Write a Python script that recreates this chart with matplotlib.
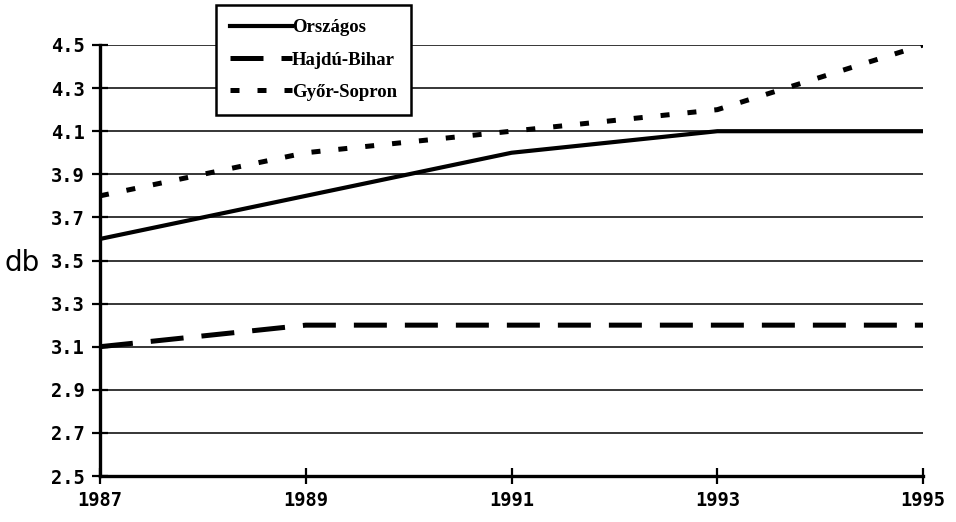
import matplotlib.pyplot as plt
import numpy as np

# adatok
evek = [1987, 1988, 1989, 1990, 1991, 1992, 1993, 1994, 1995]
orszagos = [3.6, 3.7, 3.8, 3.9, 4.0, 4.05, 4.1, 4.1, 4.1]
hajdu_bihar = [3.1, 3.15, 3.2, 3.2, 3.2, 3.2, 3.2, 3.2, 3.2]
gyor_sopron = [3.8, 3.9, 4.0, 4.05, 4.1, 4.15, 4.2, 4.35, 4.5]
y_ticks = [2.5, 2.7, 2.9, 3.1, 3.3, 3.5, 3.7, 3.9, 4.1, 4.3, 4.5]
x_ticks = [1987, 1989, 1991, 1993, 1995]

fig = plt.figure(figsize=(9.56, 5.22), dpi=100)
ax = fig.add_axes([0.1046, 0.0881, 0.861, 0.8257])

ax.plot(evek, orszagos, color='black', lw=3.0, label='Országos')
ax.plot(evek, hajdu_bihar, color='black', lw=3.6, linestyle=(0, (6.6, 3.6)),
        label='Hajdú-Bihar')
ax.plot(evek, gyor_sopron, color='black', lw=3.6, linestyle=(0, (1.8, 3.6)),
        label='Győr-Sopron')

ax.set_xlim(1987, 1995)
ax.set_ylim(2.5, 4.5)
ax.set_yticks(y_ticks)
ax.set_yticklabels(['%.1f' % v for v in y_ticks])
ax.set_xticks(x_ticks)
ax.grid(axis='y', color='black', lw=1.1)
ax.set_axisbelow(True)

for s in ['top', 'right']:
    ax.spines[s].set_visible(False)
for s in ['left', 'bottom']:
    ax.spines[s].set_linewidth(2.4)

ax.tick_params(axis='y', direction='inout', length=12, width=1.6, pad=5)
ax.tick_params(axis='x', direction='inout', length=12, width=1.6, pad=5)
for lbl in ax.get_xticklabels() + ax.get_yticklabels():
    lbl.set_fontfamily('DejaVu Sans Mono')
    lbl.set_fontweight('bold')
    lbl.set_fontsize(13.5)

fig.text(0.023, 0.497, 'db', fontsize=20, family='DejaVu Sans', va='center', ha='center')

leg = ax.legend(loc='upper left', bbox_to_anchor=(0.226, 0.99), bbox_transform=fig.transFigure,
                fancybox=False, framealpha=1, edgecolor='black', handlelength=3.3,
                handletextpad=0.0, borderpad=0.75, labelspacing=0.8, borderaxespad=0,
                prop={'family': 'Liberation Serif', 'weight': 'bold', 'size': 13.5})
leg.get_frame().set_linewidth(1.8)

fig.savefig('out.png', dpi=100)
